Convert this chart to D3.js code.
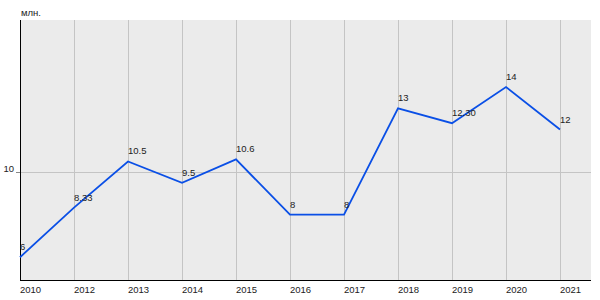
<!DOCTYPE html>
<html>
<head>
<meta charset="utf-8">
<script src="https://cdn.jsdelivr.net/npm/d3@7"></script>
<style>
  body { margin: 0; background: #fff; }
  text { font-family: "Liberation Sans", Arial, sans-serif; fill: #222; }
</style>
</head>
<body>
<div class="chart"></div>
<script>
  const years = ["2010", "2012", "2013", "2014", "2015", "2016", "2017", "2018", "2019", "2020", "2021"];
  const values = [6, 8.33, 10.5, 9.5, 10.6, 8, 8, 13, 12.3, 14, 12];
  const valueLabels = ["6", "8.33", "10.5", "9.5", "10.6", "8", "8", "13", "12.30", "14", "12"];
  const yTicks = [10];
  const unitLabel = "млн.";

  const width = 600, height = 300;
  const plot = { left: 20, right: 591, top: 20, bottom: 280 };

  const svg = d3.select(".chart").append("svg")
    .attr("width", width)
    .attr("height", height);

  const x = d3.scalePoint()
    .domain(years)
    .range([plot.left, 560]);

  const y = d3.scaleLinear()
    .domain([4.93, 17.15])
    .range([plot.bottom, plot.top]);

  // background
  svg.append("rect")
    .attr("x", plot.left)
    .attr("y", plot.top)
    .attr("width", plot.right - plot.left)
    .attr("height", plot.bottom - plot.top)
    .attr("fill", "#ebebeb");

  // vertical grid
  svg.append("g")
    .selectAll("line")
    .data(years.slice(1))
    .join("line")
    .attr("x1", d => x(d) + 0.5)
    .attr("x2", d => x(d) + 0.5)
    .attr("y1", plot.top)
    .attr("y2", plot.bottom)
    .attr("stroke", "#c4c4c4");

  // horizontal grid + ticks
  const yg = svg.append("g");
  yg.selectAll("line.grid")
    .data(yTicks)
    .join("line")
    .attr("class", "grid")
    .attr("x1", plot.left)
    .attr("x2", plot.right)
    .attr("y1", d => Math.round(y(d)) + 0.5)
    .attr("y2", d => Math.round(y(d)) + 0.5)
    .attr("stroke", "#c4c4c4");
  yg.selectAll("line.tick")
    .data(yTicks)
    .join("line")
    .attr("class", "tick")
    .attr("x1", plot.left - 4)
    .attr("x2", plot.left)
    .attr("y1", d => Math.round(y(d)) + 0.5)
    .attr("y2", d => Math.round(y(d)) + 0.5)
    .attr("stroke", "#888");
  yg.selectAll("text")
    .data(yTicks)
    .join("text")
    .attr("x", plot.left - 6)
    .attr("y", d => y(d))
    .attr("text-anchor", "end")
    .attr("font-size", 9.5)
    .text(d => d);

  // axes lines
  svg.append("line")
    .attr("x1", plot.left + 0.5).attr("x2", plot.left + 0.5)
    .attr("y1", plot.top).attr("y2", plot.bottom + 0.5)
    .attr("stroke", "#000");
  svg.append("line")
    .attr("x1", plot.left).attr("x2", plot.right)
    .attr("y1", plot.bottom + 0.5).attr("y2", plot.bottom + 0.5)
    .attr("stroke", "#000");

  // x labels
  svg.append("g")
    .selectAll("text")
    .data(years)
    .join("text")
    .attr("x", d => x(d))
    .attr("y", 293)
    .attr("font-size", 9.5)
    .text(d => d);

  // unit label
  svg.append("text")
    .attr("x", 21)
    .attr("y", 16)
    .attr("font-size", 9.5)
    .text(unitLabel);

  // line
  const line = d3.line()
    .x((d, i) => x(years[i]))
    .y(d => y(d));

  svg.append("path")
    .datum(values)
    .attr("d", line)
    .attr("fill", "none")
    .attr("stroke", "#0a4fe6")
    .attr("stroke-width", 1.8);

  // value labels
  svg.append("g")
    .selectAll("text")
    .data(values)
    .join("text")
    .attr("x", (d, i) => x(years[i]))
    .attr("y", d => y(d) - 7)
    .attr("font-size", 9.5)
    .text((d, i) => valueLabels[i]);
</script>
</body>
</html>
